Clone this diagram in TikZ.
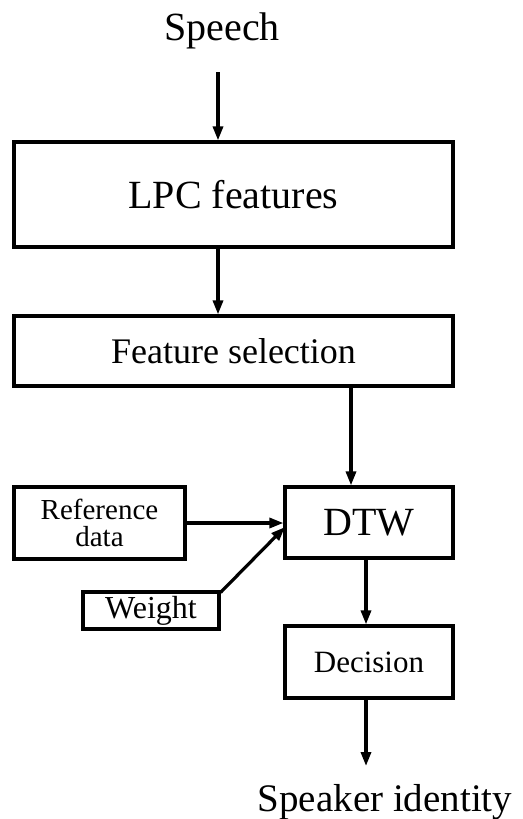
\documentclass[tikz,border=0pt]{standalone}
\usepackage{fontspec}
\setmainfont{Liberation Serif}
\usetikzlibrary{arrows.meta,calc}
\begin{document}
\begin{tikzpicture}[x=1pt,y=-1pt,
  box/.style={draw,line width=3.2pt,rectangle,inner sep=0pt,anchor=center},
  arr/.style={line width=3.2pt,-{Triangle[length=14pt,width=10pt]}},
  lbl/.style={inner sep=0pt,anchor=base}]
\useasboundingbox (0,0) rectangle (522,819);
% labels
\node[lbl,font=\fontsize{40}{40}\selectfont] (speech) at (222,40) {Speech};
\node[lbl,font=\fontsize{39}{39}\selectfont] (spk) at (385,811) {Speaker identity};
% boxes
\node[box,minimum width=439pt,minimum height=105pt,font=\fontsize{40}{40}\selectfont] (lpc) at (233.5,194.5) {LPC features};
\node[box,minimum width=439pt,minimum height=70pt,font=\fontsize{36}{36}\selectfont] (fs) at (233.5,351) {Feature selection};
\node[box,minimum width=171pt,minimum height=72pt,align=center,font=\fontsize{29}{27}\selectfont] (ref) at (99.5,523) {Reference\\data};
\node[box,minimum width=168pt,minimum height=71pt,font=\fontsize{40}{40}\selectfont] (dtw) at (369,522.5) {DTW};
\node[box,minimum width=136pt,minimum height=37pt,font=\fontsize{32}{32}\selectfont] (wt) at (151,610.5) {Weight};
\node[box,minimum width=168pt,minimum height=72pt,font=\fontsize{31}{31}\selectfont] (dec) at (369,662) {Decision};
% free ends
\coordinate (in) at (218,72);
\coordinate (out) at (366,766);
\coordinate (wtin) at (285,527);
% connectors
\draw[arr] (in) -- (in |- lpc.north);
\draw[arr] (lpc.south -| in) -- (fs.north -| in);
\draw[arr] (fs.south -| 351,0) -- (dtw.north -| 351,0);
\draw[arr] (ref.east) -- (ref.east -| dtw.west);
\draw[arr] ([yshift=-2pt]wt.north east) -- (wtin);
\draw[arr] (dtw.south -| out) -- (dec.north -| out);
\draw[arr] (dec.south -| out) -- (out);
\end{tikzpicture}
\end{document}
